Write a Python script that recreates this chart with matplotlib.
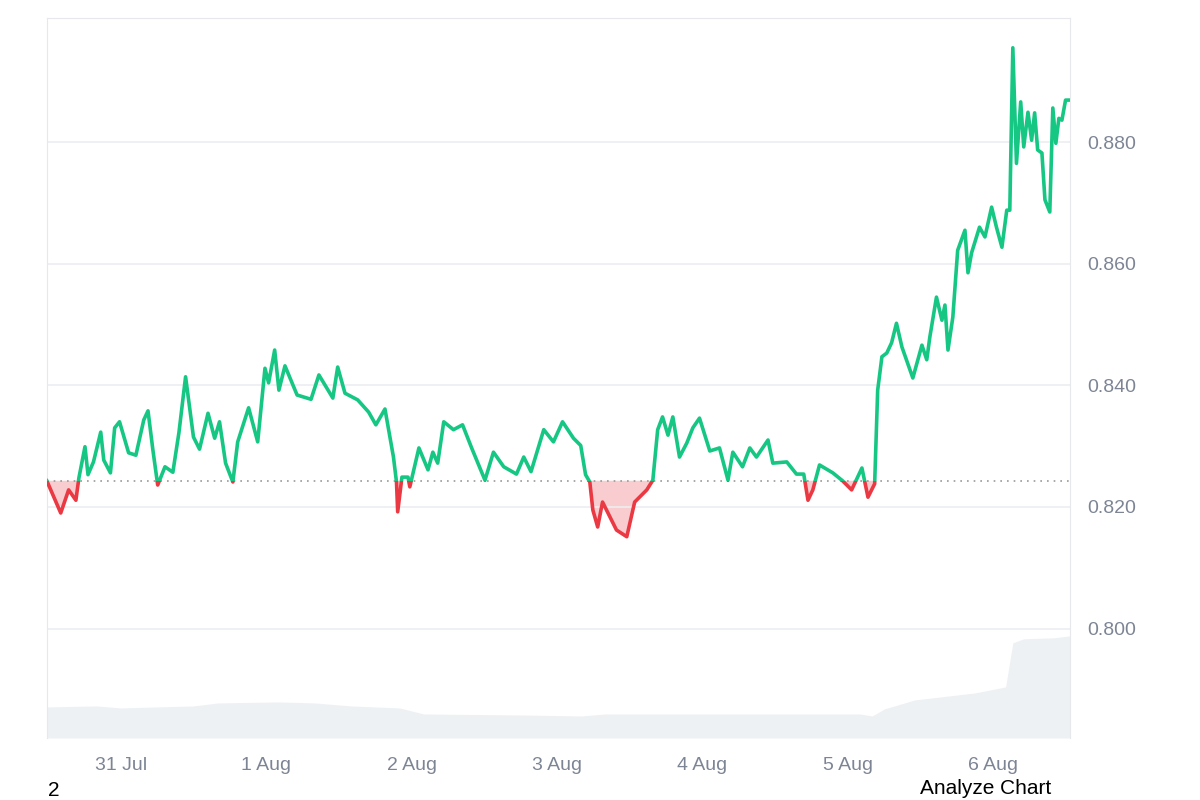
import matplotlib
matplotlib.use("Agg")
import matplotlib.pyplot as plt
import numpy as np
from matplotlib.patches import Rectangle

plt.rcParams["font.family"] = ["Liberation Sans", "DejaVu Sans"]

# hours since 30 Jul 00:00
hours = [11.8, 14.1, 15.4, 16.6, 17.1, 18.1, 18.6, 19.5, 20.7, 21.2, 22.3, 23.0, 23.8, 25.3, 26.5,
         27.8, 28.5, 29.3, 30.1, 31.3, 32.6, 33.6, 34.7, 36.0, 37.0, 38.4, 39.5, 40.3, 41.3, 42.5,
         43.3, 45.1, 46.6, 47.8, 48.4, 49.4, 50.1, 51.1, 53.1, 55.4, 56.7, 59.0, 59.8, 61.0, 63.1,
         64.9, 66.1, 67.6, 69.0, 69.5, 69.7, 70.4, 71.4, 71.7, 73.2, 74.7, 75.5, 76.3, 77.3, 78.9,
         80.4, 81.9, 84.1, 85.5, 87.2, 89.3, 90.5, 91.7, 93.8, 95.4, 96.9, 98.7, 99.9, 100.7, 101.4,
         101.9, 102.7, 103.5, 105.8, 107.5, 108.8, 110.8, 111.8, 112.6, 113.4, 114.3, 115.1, 116.2,
         117.4, 118.4, 119.5, 121.2, 122.8, 124.2, 125.0, 126.6, 127.8, 128.9, 130.8, 131.6, 133.9,
         135.5, 136.7, 137.4, 138.2, 139.3, 141.5, 143.1, 144.6, 146.3, 147.3, 148.4, 148.9, 149.6,
         150.4, 151.2, 152.0, 152.9, 154.7, 156.2, 157.0, 157.5, 158.6, 159.5, 160.0, 160.5, 161.3,
         162.1, 163.3, 163.8, 164.4, 165.7, 166.6, 167.7, 168.5, 169.4, 170.2, 170.7, 171.2, 171.8,
         172.5, 173.0, 173.7, 174.3, 174.8, 175.3, 176.0, 176.5, 177.3, 177.8, 178.3, 178.8, 179.3,
         179.9, 180.7]
prices = [0.8243, 0.8190, 0.8228, 0.8211, 0.8248, 0.8299, 0.8253, 0.8274, 0.8323, 0.8277, 0.8256,
          0.8330, 0.8340, 0.8289, 0.8285, 0.8343, 0.8358, 0.8294, 0.8236, 0.8266, 0.8257, 0.8322,
          0.8414, 0.8315, 0.8295, 0.8354, 0.8313, 0.8340, 0.8272, 0.8241, 0.8307, 0.8363, 0.8307,
          0.8428, 0.8404, 0.8458, 0.8392, 0.8432, 0.8384, 0.8377, 0.8417, 0.8379, 0.8430, 0.8387,
          0.8376, 0.8356, 0.8335, 0.8361, 0.8282, 0.8241, 0.8192, 0.8249, 0.8249, 0.8233, 0.8297,
          0.8261, 0.8290, 0.8272, 0.8340, 0.8327, 0.8335, 0.8297, 0.8244, 0.8290, 0.8266, 0.8254,
          0.8282, 0.8258, 0.8327, 0.8307, 0.8340, 0.8313, 0.8301, 0.8253, 0.8241, 0.8195, 0.8167,
          0.8208, 0.8162, 0.8151, 0.8208, 0.8228, 0.8244, 0.8327, 0.8348, 0.8318, 0.8348, 0.8282,
          0.8305, 0.8330, 0.8346, 0.8292, 0.8297, 0.8244, 0.8290, 0.8266, 0.8297, 0.8282, 0.8310,
          0.8272, 0.8274, 0.8254, 0.8254, 0.8211, 0.8228, 0.8269, 0.8256, 0.8243, 0.8228, 0.8264,
          0.8216, 0.8238, 0.8392, 0.8447, 0.8453, 0.8470, 0.8502, 0.8463, 0.8412, 0.8466, 0.8442,
          0.8479, 0.8545, 0.8507, 0.8532, 0.8458, 0.8512, 0.8622, 0.8655, 0.8585, 0.8618, 0.8660,
          0.8644, 0.8693, 0.8660, 0.8627, 0.8688, 0.8688, 0.8955, 0.8765, 0.8866, 0.8792, 0.8849,
          0.8803, 0.8848, 0.8787, 0.8782, 0.8705, 0.8685, 0.8856, 0.8798, 0.8839, 0.8836, 0.8869,
          0.8869]

vol_hours = [11.8, 20, 24, 36, 40, 50, 56, 62, 70, 74, 90, 100, 104, 130, 146, 148, 150, 155,
             165, 170, 171.2, 173, 178, 180.7]
vol_values = [310, 320, 300, 320, 350, 360, 350, 320, 300, 240, 230, 220, 240, 240, 240, 220,
              290, 380, 450, 510, 950, 990, 1000, 1020]

tick_hours = [24, 48, 72, 96, 120, 144, 168]
tick_labels = ["31 Jul", "1 Aug", "2 Aug", "3 Aug", "4 Aug", "5 Aug", "6 Aug"]
y_ticks = [0.800, 0.820, 0.840, 0.860, 0.880]

GREEN = "#16c784"
RED = "#ea3943"
GRAY = "#7d8595"

base = prices[0]
x = np.array(hours)
y = np.array(prices)
x_min, x_max = 11.8, 180.7
y_min, y_max = 0.7820, 0.9004

fig = plt.figure(figsize=(12, 8), dpi=100)
ax = fig.add_axes([0.039, 0.0775, 0.853, 0.9])

# volume in the background
vax = ax.twinx()
vax.fill_between(vol_hours, vol_values, color="#eef1f4", linewidth=0)
vax.set_ylim(0, max(vol_values) / 0.142)
vax.set_axis_off()
ax.set_zorder(vax.get_zorder() + 1)
ax.patch.set_visible(False)

ax.set_xlim(x_min, x_max)
ax.set_ylim(y_min, y_max)

# gradient fill above baseline
grad = np.linspace(0.0, 1.0, 256).reshape(-1, 1)
cmap = matplotlib.colors.LinearSegmentedColormap.from_list(
    "g", [(0.086, 0.78, 0.52, 0.04), (0.086, 0.78, 0.52, 0.30)])
img = ax.imshow(grad, extent=[x_min, x_max, base, y.max()], origin="lower",
                aspect="auto", cmap=cmap, zorder=1)
poly = ax.fill_between(x, y, base, where=y >= base, interpolate=True, color="none")
img.set_clip_path(poly.get_paths()[0], transform=ax.transData)
ax.fill_between(x, y, base, where=y <= base, interpolate=True, color=RED, alpha=0.25,
                linewidth=0, zorder=1)

above = Rectangle((x_min, base), x_max - x_min, y_max - base, transform=ax.transData)
below = Rectangle((x_min, y_min), x_max - x_min, base - y_min, transform=ax.transData)
(lg,) = ax.plot(x, y, color=GREEN, linewidth=2.6, zorder=3, solid_joinstyle="round")
lg.set_clip_path(above)
(lr,) = ax.plot(x, y, color=RED, linewidth=2.6, zorder=3, solid_joinstyle="round")
lr.set_clip_path(below)

ax.axhline(base, color="#999999", linestyle=(0, (1, 3)), linewidth=1.2, zorder=2)

ax.set_yticks(y_ticks)
ax.set_yticklabels([f"{v:.3f}" for v in y_ticks])
ax.yaxis.tick_right()
ax.set_xticks(tick_hours)
ax.set_xticklabels(tick_labels)
ax.tick_params(axis="both", length=0, labelsize=14, labelcolor=GRAY)
ax.tick_params(axis="y", pad=12)
ax.tick_params(axis="x", pad=14)
ax.grid(axis="y", color="#eceef1", linewidth=1.2)
for side in ("left", "top", "right"):
    ax.spines[side].set_color("#e6e8eb")
ax.spines["bottom"].set_visible(False)

fig.text(0.04, 0.0, "2", fontsize=15, color="black", va="bottom")
fig.text(0.767, 0.003, "Analyze Chart", fontsize=15, color="black", va="bottom")

fig.savefig("out.png", dpi=100)
